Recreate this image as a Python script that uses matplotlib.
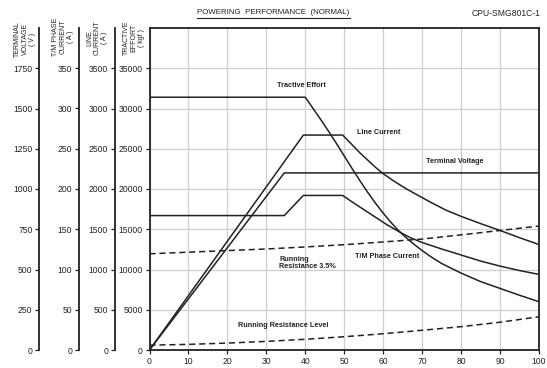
import matplotlib
matplotlib.use("Agg")
import matplotlib.pyplot as plt
from matplotlib.lines import Line2D

plt.rcParams['font.family'] = ['Liberation Sans', 'DejaVu Sans']

# ---- data (speed km/h on x; values on tractive-effort scale, kgf) ----
speed_te = [0, 40, 42, 44, 46, 48, 50, 52, 54, 56, 58, 60, 62, 64, 66, 68, 70, 72, 75, 80, 85, 90, 95, 100]
tractive_effort = [31400, 31400, 30000, 28600, 27150, 25650, 24100, 22550, 21050, 19600, 18250, 17000,
                   15850, 14800, 13900, 13100, 12350, 11660, 10750, 9550, 8500, 7650, 6800, 6000]

speed_lc = [0, 39.5, 49.6, 52, 54, 56, 58, 60, 63, 66, 69, 72, 76, 80, 85, 90, 95, 100]
line_current = [0, 26700, 26700, 25500, 24500, 23600, 22700, 21900, 20900, 20000, 19200, 18400,
                17400, 16600, 15700, 14850, 13950, 13100]

speed_tv = [0, 34.6, 100]
terminal_voltage = [0, 22000, 22000]

speed_pc = [0, 34.6, 39.5, 49.6, 52, 55, 58, 61, 64.8, 67, 70, 72, 75, 80, 85, 90, 95, 100]
phase_current = [16700, 16700, 19200, 19200, 18400, 17450, 16500, 15550, 14500, 13950, 13350, 13030,
                 12550, 11800, 11050, 10420, 9870, 9390]

speed_rr = [0, 10, 20, 30, 40, 50, 60, 70, 80, 90, 100]
running_res_35 = [11950, 12150, 12350, 12550, 12800, 13080, 13420, 13780, 14300, 14850, 15400]
running_res_level = [600, 700, 860, 1070, 1330, 1650, 2020, 2450, 2900, 3450, 4130]

x_ticks = list(range(0, 101, 10))
te_ticks = list(range(0, 35001, 5000))
lc_ticks = list(range(0, 3501, 500))
pc_ticks = list(range(0, 351, 50))
tv_ticks = list(range(0, 1751, 250))

W, H = 547, 368
fig = plt.figure(figsize=(W / 100, H / 100), dpi=100)
left_px, right_px, top_px, bot_px = 149.5, 539, 28, 350
rect = [left_px / W, 1 - bot_px / H, (right_px - left_px) / W, (bot_px - top_px) / H]
ax = fig.add_axes(rect)

tick_fs = 6.2
ax.set_xlim(0, 100)
ax.set_ylim(0, 40000)
ax.set_xticks(x_ticks)
ax.set_yticks(te_ticks)
ax.tick_params(direction='out', length=3, width=0.9, labelsize=tick_fs, pad=2, colors='#222')
ax.grid(True, color='#cfcfcf', lw=0.9)
ax.set_axisbelow(True)
for s in ax.spines.values():
    s.set_linewidth(1.3)
    s.set_color('#222')

lw = 1.1
ax.plot(speed_te, tractive_effort, color='#222', lw=lw)
ax.plot(speed_lc, line_current, color='#222', lw=lw)
ax.plot(speed_tv, terminal_voltage, color='#222', lw=lw)
ax.plot(speed_pc, phase_current, color='#222', lw=lw)
ax.plot(speed_rr, running_res_35, color='#222', lw=lw, ls=(0, (4, 2.5)))
ax.plot(speed_rr, running_res_level, color='#222', lw=lw, ls=(0, (4, 2.5)))

lab_fs = 5.2
kw = dict(fontsize=lab_fs, fontweight='bold', color='#222')
ax.text(38.9, 32900, 'Tractive Effort', ha='center', va='center', **kw)
ax.text(53.2, 26960, 'Line Current', ha='left', va='center', **kw)
ax.text(71, 23360, 'Terminal Voltage', ha='left', va='center', **kw)
ax.text(52.8, 11580, 'T/M Phase Current', ha='left', va='center', **kw)
ax.text(33.3, 10800, 'Running\nResistance 3.5%', ha='left', va='center', linespacing=1.1, **kw)
ax.text(22.6, 3100, 'Running Resistance Level', ha='left', va='center', **kw)

# extra left axes
def side_axis(offset_px, top, ticks):
    a = fig.add_axes(rect)
    a.patch.set_visible(False)
    for k in ('top', 'right', 'bottom'):
        a.spines[k].set_visible(False)
    a.spines['left'].set_position(('outward', offset_px * 0.72))
    a.spines['left'].set_linewidth(1.3)
    a.spines['left'].set_color('#222')
    a.set_ylim(0, top)
    a.set_yticks(ticks)
    a.set_xticks([])
    a.tick_params(direction='out', length=3, width=0.9, labelsize=tick_fs, pad=2, colors='#222')
    return a

side_axis(149.5 - 115, 4000, lc_ticks)
side_axis(149.5 - 79, 400, pc_ticks)
side_axis(149.5 - 39.5, 2000, tv_ticks)

# vertical axis titles
ttl_kw = dict(fontsize=5.0, rotation=90, ha='center', va='center', multialignment='center',
              linespacing=1.05, color='#222')
fig.text(25 / W, 1 - 39 / H, 'TERMINAL\nVOLTAGE\n( V )', **ttl_kw)
fig.text(63 / W, 1 - 37 / H, 'T/M PHASE\nCURRENT\n( A )', **ttl_kw)
fig.text(97 / W, 1 - 38 / H, 'LINE\nCURRENT\n( A )', **ttl_kw)
fig.text(134 / W, 1 - 38 / H, 'TRACTIVE\nEFFORT\n( kgf )', **ttl_kw)

title = fig.text(273.5 / W, 1 - 13 / H, 'POWERING  PERFORMANCE  (NORMAL)', ha='center', va='center',
                 fontsize=5.7, color='#222')
fig.text(540 / W, 1 - 13 / H, 'CPU-SMG801C-1', ha='right', va='center', fontsize=6.2, color='#222')

fig.canvas.draw()
bb = title.get_window_extent()
y_ul = (bb.y0 - 1.5) / H
fig.add_artist(Line2D([bb.x0 / W, bb.x1 / W], [y_ul, y_ul], transform=fig.transFigure,
                      color='#222', lw=0.8))

fig.savefig('out.png', dpi=100)
